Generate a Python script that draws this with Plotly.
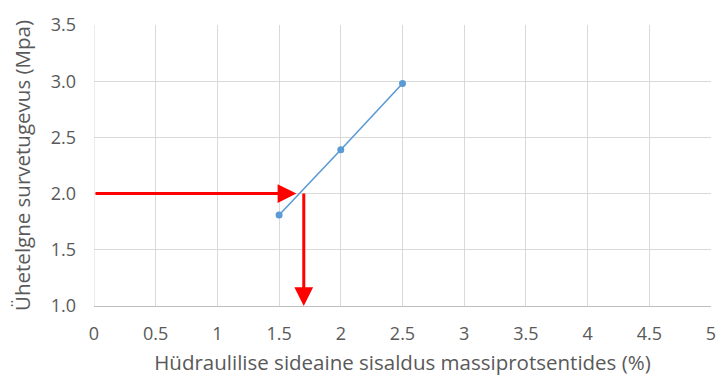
import plotly.graph_objects as go

# Binder content (%) vs. unconfined compressive strength (MPa)
binder_pct = [1.5, 2.0, 2.5]
strength_mpa = [1.81, 2.39, 2.98]

x_ticks = [0, 0.5, 1, 1.5, 2, 2.5, 3, 3.5, 4, 4.5, 5]
x_tick_text = ["0", "0.5", "1", "1.5", "2", "2.5", "3", "3.5", "4", "4.5", "5"]
y_ticks = [1.0, 1.5, 2.0, 2.5, 3.0, 3.5]
y_tick_text = ["1.0", "1.5", "2.0", "2.5", "3.0", "3.5"]

# Reading: required strength -> binder content
required_strength = 2.0
horiz_arrow_end = 1.64
read_binder = 1.70
y_floor = 1.0

FONT = "Open Sans, sans-serif"
BLUE = "#5B9BD5"
RED = "#FF0000"
GRID = "#D9D9D9"
TXT = "#595959"

fig = go.Figure()
fig.add_trace(go.Scatter(
    x=binder_pct, y=strength_mpa, mode="lines+markers",
    line=dict(color=BLUE, width=1.6),
    marker=dict(color=BLUE, size=7),
    showlegend=False, hoverinfo="skip",
))

arrow_common = dict(
    xref="x", yref="y", axref="x", ayref="y", text="", showarrow=True,
    arrowhead=2, arrowsize=1.25, arrowwidth=3, arrowcolor=RED,
)
fig.add_annotation(x=horiz_arrow_end, y=required_strength,
                   ax=0, ay=required_strength, **arrow_common)
fig.add_annotation(x=read_binder, y=y_floor,
                   ax=read_binder, ay=required_strength + 0.015, **arrow_common)

fig.update_layout(
    width=717, height=376,
    margin=dict(l=94, r=6, t=25, b=70),
    plot_bgcolor="white", paper_bgcolor="white",
    font=dict(family=FONT, color=TXT, size=18),
)
fig.update_xaxes(
    range=[0, 5], tickvals=x_ticks, ticktext=x_tick_text,
    showgrid=True, gridcolor=GRID, gridwidth=1,
    zeroline=False, showline=True, linecolor="#BFBFBF", linewidth=1,
    ticks="", ticklabelstandoff=11, automargin=False,
    tickfont=dict(size=18, color=TXT),
    title=dict(text="Hüdraulilise sideaine sisaldus massiprotsentides (%)",
               font=dict(size=20.5, color=TXT), standoff=14),
)
fig.update_yaxes(
    range=[1.0, 3.5], tickvals=y_ticks, ticktext=y_tick_text,
    showgrid=True, gridcolor=GRID, gridwidth=1,
    zeroline=False, showline=False, ticks="", ticklabelstandoff=17,
    automargin=False,
    tickfont=dict(size=18, color=TXT),
    title=dict(text="Ühetelgne survetugevus (Mpa)",
               font=dict(size=20.5, color=TXT), standoff=14),
)
# left boundary gridline at x = 0
fig.add_shape(type="line", xref="x", yref="y", x0=0, x1=0, y0=1.0, y1=3.5,
              line=dict(color=GRID, width=1), layer="below")

fig.write_html("out.html")
